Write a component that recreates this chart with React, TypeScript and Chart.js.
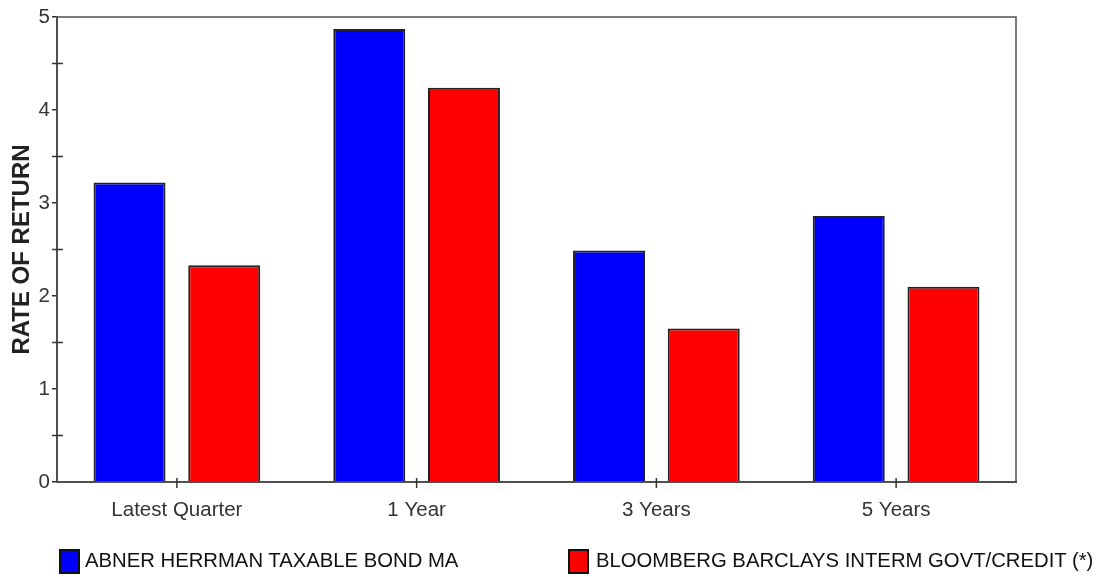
import React, { useEffect, useRef } from "react";
import { Chart, registerables } from "chart.js";

Chart.register(...registerables);

const categories = ["Latest Quarter", "1 Year", "3 Years", "5 Years"];
const seriesNames = ["ABNER HERRMAN TAXABLE BOND MA", "BLOOMBERG BARCLAYS INTERM GOVT/CREDIT (*)"];
const fundValues = [3.22, 4.87, 2.49, 2.86];
const benchmarkValues = [2.33, 4.24, 1.65, 2.1];
const seriesColors = ["#0000FF", "#FF0000"];
const yTickValues = [0, 1, 2, 3, 4, 5];
const yAxisTitle = "RATE OF RETURN";

const FONT = "'Liberation Sans', Arial, sans-serif";
const AXIS = "#505050";

const tickPlugin = {
  id: "extraTicks",
  afterDraw(chart: any) {
    const { ctx, chartArea, scales } = chart;
    const y = scales.y;
    const x = scales.x;
    ctx.save();
    ctx.strokeStyle = AXIS;
    ctx.lineWidth = 1.5;
    ctx.beginPath();
    ctx.moveTo(chartArea.left, chartArea.top);
    ctx.lineTo(chartArea.right, chartArea.top);
    ctx.lineTo(chartArea.right, chartArea.bottom);
    ctx.stroke();
    ctx.strokeStyle = "#333";
    for (let v = 0.5; v < 5; v += 1) {
      const py = y.getPixelForValue(v);
      ctx.beginPath();
      ctx.moveTo(chartArea.left - 5, py);
      ctx.lineTo(chartArea.left + 6, py);
      ctx.stroke();
    }
    for (let i = 0; i < categories.length; i++) {
      const px = x.getPixelForValue(i);
      ctx.beginPath();
      ctx.moveTo(px, chartArea.bottom - 4);
      ctx.lineTo(px, chartArea.bottom + 6);
      ctx.stroke();
    }
    ctx.restore();
  },
};

export default function App() {
  const ref = useRef<HTMLCanvasElement>(null);
  useEffect(() => {
    if (!ref.current) return;
    const chart = new Chart(ref.current, {
      type: "bar",
      data: {
        labels: categories,
        datasets: [
          {
            label: seriesNames[0],
            data: fundValues,
            backgroundColor: seriesColors[0],
            borderColor: "#222",
            borderWidth: 2,
            categoryPercentage: 0.79,
            barPercentage: 0.76,
          },
          {
            label: seriesNames[1],
            data: benchmarkValues,
            backgroundColor: seriesColors[1],
            borderColor: "#222",
            borderWidth: 2,
            categoryPercentage: 0.79,
            barPercentage: 0.76,
          },
        ],
      },
      options: {
        animation: false,
        responsive: false,
        maintainAspectRatio: false,
        layout: { padding: { left: 0, right: 100, top: 17, bottom: 0 } },
        plugins: { legend: { display: false }, tooltip: { enabled: false } },
        scales: {
          x: {
            grid: { display: false, offset: false, drawOnChartArea: false, tickLength: 6 },
            border: { display: true, color: AXIS, width: 2 },
            ticks: { color: "#333", font: { family: FONT, size: 20.5 }, padding: 10, maxRotation: 0 },
            afterFit: (s: any) => {
              s.height = 95;
            },
          },
          y: {
            min: 0,
            max: 5,
            afterBuildTicks: (s: any) => {
              s.ticks = yTickValues.map((v) => ({ value: v }));
            },
            grid: { display: true, drawOnChartArea: false, tickLength: 5, color: "#333", lineWidth: 1.5 },
            border: { display: true, color: AXIS, width: 2 },
            ticks: { color: "#333", font: { family: FONT, size: 20.5 }, padding: 2 },
            title: {
              display: true,
              text: yAxisTitle,
              color: "#222",
              font: { family: FONT, size: 24, weight: "bold" },
              padding: { top: 8, bottom: 0 },
            },
            afterFit: (s: any) => {
              s.width = 57;
            },
          },
        },
      },
      plugins: [tickPlugin],
    });
    return () => chart.destroy();
  }, []);

  const legendText: React.CSSProperties = {
    position: "absolute",
    top: 548,
    fontFamily: FONT,
    fontSize: 20.3,
    color: "#111",
    lineHeight: "24px",
    whiteSpace: "nowrap",
  };
  const box = (left: number, color: string): React.CSSProperties => ({
    position: "absolute",
    left,
    top: 549,
    width: 17,
    height: 21,
    background: color,
    border: "2px solid #111",
  });

  return (
    <div style={{ position: "fixed", left: 0, top: 0, width: 1116, height: 577, background: "#fff" }}>
      <canvas ref={ref} width={1116} height={577} style={{ position: "absolute", left: 0, top: 0 }} />
      <div style={box(59, seriesColors[0])} />
      <div style={{ ...legendText, left: 85 }}>{seriesNames[0]}</div>
      <div style={box(568, seriesColors[1])} />
      <div style={{ ...legendText, left: 596 }}>{seriesNames[1]}</div>
    </div>
  );
}
